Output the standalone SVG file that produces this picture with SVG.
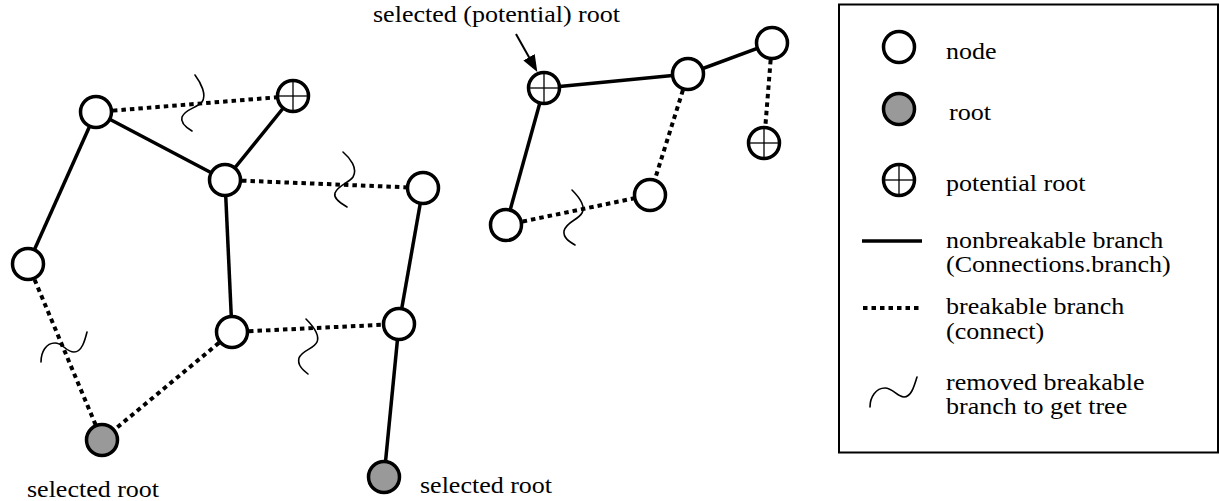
<svg xmlns="http://www.w3.org/2000/svg" width="1220" height="501" viewBox="0 0 1220 501">
<defs>
<style>
.t{font-family:"Liberation Serif","Times New Roman",serif;font-size:24px;fill:#000}
.solid{stroke:#000;stroke-width:3.5;fill:none}
.dot{stroke:#000;stroke-width:4;stroke-dasharray:4.5 4;fill:none}
.wave{stroke:#000;stroke-width:1.6;fill:none;stroke-linecap:round}
.node{fill:#fff;stroke:#000;stroke-width:3.5}
.root{fill:#999;stroke:#000;stroke-width:3.5}
.cross{stroke:#000;stroke-width:1.3}
</style>
<marker id="ah" markerUnits="userSpaceOnUse" markerWidth="18" markerHeight="14" refX="2" refY="6.5" orient="auto">
<path d="M0,0 L17,6.5 L0,13 z" fill="#000"/>
</marker>
<g id="pr">
<circle class="node" cx="0" cy="0" r="15.5"/>
<line class="cross" x1="-14" y1="0" x2="14" y2="0"/>
<line class="cross" x1="0" y1="-14" x2="0" y2="14"/>
</g>
</defs>
<rect width="1220" height="501" fill="#fff"/>

<g id="connectors">
<line class="dot" x1="96" y1="112" x2="293" y2="96"/>
<line class="solid" x1="96" y1="112" x2="225" y2="180"/>
<line class="solid" x1="96" y1="112" x2="28" y2="264"/>
<line class="solid" x1="293" y1="96" x2="225" y2="180"/>
<line class="dot" x1="225" y1="180" x2="423" y2="188"/>
<line class="solid" x1="225" y1="180" x2="232" y2="332"/>
<line class="solid" x1="423" y1="188" x2="399" y2="324"/>
<line class="dot" x1="232" y1="332" x2="399" y2="324"/>
<line class="dot" x1="28" y1="264" x2="102" y2="440"/>
<line class="dot" x1="232" y1="332" x2="102" y2="440"/>
<line class="solid" x1="399" y1="324" x2="384" y2="477"/>
<line class="solid" x1="544" y1="88" x2="688" y2="74"/>
<line class="solid" x1="688" y1="74" x2="772" y2="43"/>
<line class="dot" x1="772" y1="43" x2="764" y2="143"/>
<line class="solid" x1="544" y1="88" x2="506" y2="225"/>
<line class="dot" x1="688" y1="74" x2="650" y2="195"/>
<line class="dot" x1="506" y1="225" x2="650" y2="195"/>
<line x1="516" y1="34" x2="530" y2="59" stroke="#000" stroke-width="2" marker-end="url(#ah)"/>
</g>

<g id="removed-marks">
<path class="wave" d="M195,75 C201,83 207,95 202,102 C197,108 185,109 182,117 C180,123 187,128 192,131"/>
<path class="wave" d="M343,152 C350,158 358,168 353,177 C349,183 338,185 335,193 C333,199 342,204 347,207"/>
<path class="wave" d="M41,362 C41,352 46,343 55,343 C63,343 66,352 74,352 C82,352 85,340 87,332"/>
<path class="wave" d="M306,319 C312,325 320,335 317,342 C314,349 302,350 299,358 C297,365 303,370 308,374"/>
<path class="wave" d="M572,190 C578,196 586,206 582,213 C578,220 566,222 564,231 C563,238 570,242 575,245"/>
</g>

<g id="nA"><circle class="node" cx="96" cy="112" r="15.5"/></g>
<g id="nP1"><use href="#pr" x="293" y="96"/></g>
<g id="nB"><circle class="node" cx="225" cy="180" r="15.5"/></g>
<g id="nC"><circle class="node" cx="423" cy="188" r="15.5"/></g>
<g id="nD"><circle class="node" cx="28" cy="264" r="15.5"/></g>
<g id="nE"><circle class="node" cx="232" cy="332" r="15.5"/></g>
<g id="nF"><circle class="node" cx="399" cy="324" r="15.5"/></g>
<g id="nR1"><circle class="root" cx="102" cy="440" r="15.5"/><text class="t" x="27" y="497" textLength="132" lengthAdjust="spacingAndGlyphs">selected root</text></g>
<g id="nR2"><circle class="root" cx="384" cy="477" r="15.5"/><text class="t" x="420" y="493" textLength="132" lengthAdjust="spacingAndGlyphs">selected root</text></g>
<g id="nP2"><use href="#pr" x="544" y="88"/><text class="t" x="373" y="22" textLength="247" lengthAdjust="spacingAndGlyphs">selected (potential) root</text></g>
<g id="nG"><circle class="node" cx="688" cy="74" r="15.5"/></g>
<g id="nH"><circle class="node" cx="772" cy="43" r="15.5"/></g>
<g id="nP3"><use href="#pr" x="764" y="143"/></g>
<g id="nI"><circle class="node" cx="650" cy="195" r="15.5"/></g>
<g id="nJ"><circle class="node" cx="506" cy="225" r="15.5"/></g>

<g id="legend">
<rect x="839" y="4.5" width="379" height="448" fill="none" stroke="#000" stroke-width="2"/>
<circle class="node" cx="899" cy="47" r="15.5"/>
<text class="t" x="946" y="59" textLength="50.5" lengthAdjust="spacingAndGlyphs">node</text>
<circle class="root" cx="899" cy="109" r="15.5"/>
<text class="t" x="949" y="120" textLength="42" lengthAdjust="spacingAndGlyphs">root</text>
<use href="#pr" x="899" y="180"/>
<text class="t" x="946" y="191" textLength="139.4" lengthAdjust="spacingAndGlyphs">potential root</text>
<line class="solid" x1="862" y1="241" x2="922" y2="241"/>
<text class="t" x="946" y="248" textLength="217.3" lengthAdjust="spacingAndGlyphs">nonbreakable branch</text>
<text class="t" x="946" y="272" textLength="224.6" lengthAdjust="spacingAndGlyphs">(Connections.branch)</text>
<line class="dot" x1="863" y1="308" x2="922" y2="308"/>
<text class="t" x="946" y="314" textLength="178.3" lengthAdjust="spacingAndGlyphs">breakable branch</text>
<text class="t" x="946" y="339" textLength="98.2" lengthAdjust="spacingAndGlyphs">(connect)</text>
<path class="wave" d="M870,407 C870,397 876,388 885,388 C893,388 897,397 904,397 C911,397 914,387 917,377"/>
<text class="t" x="946" y="390" textLength="198.5" lengthAdjust="spacingAndGlyphs">removed breakable</text>
<text class="t" x="946" y="414" textLength="181.2" lengthAdjust="spacingAndGlyphs">branch to get tree</text>
</g>
</svg>
